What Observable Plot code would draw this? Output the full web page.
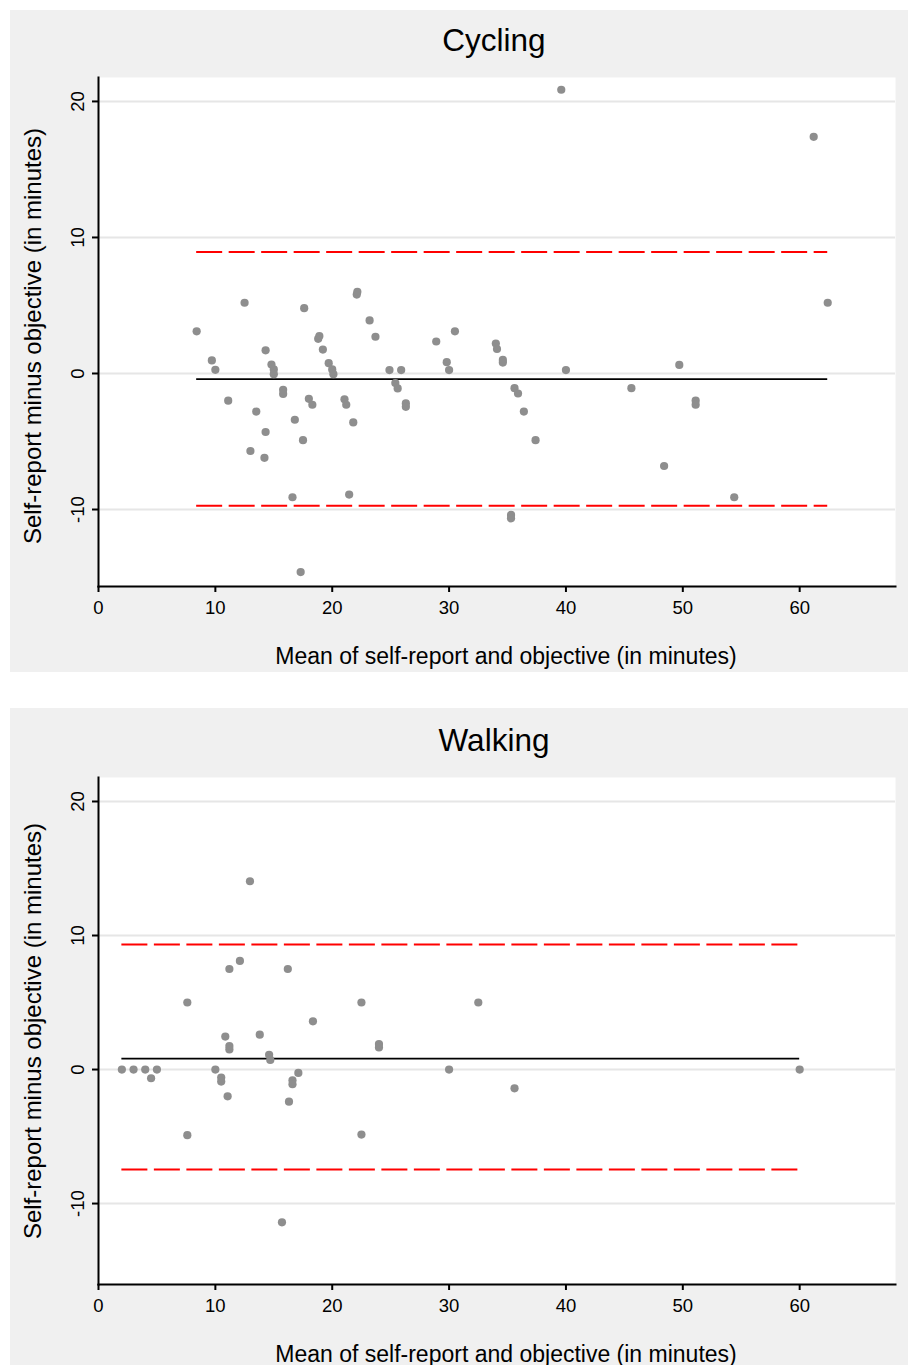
<!DOCTYPE html>
<html>
<head>
<meta charset="utf-8">
<script src="https://cdn.jsdelivr.net/npm/d3@7"></script>
<script src="https://cdn.jsdelivr.net/npm/@observablehq/plot@0.6"></script>
<style>
  html, body { margin: 0; padding: 0; background: #fff; }
  body { width: 908px; height: 1365px; position: relative; overflow: hidden;
         font-family: "Liberation Sans", Arial, Helvetica, sans-serif; }
  .panel { position: absolute; left: 10px; width: 898px; background: #f0f0f0; }
  .panel svg { position: absolute; left: 0; top: 0; }
  .txt { position: absolute; white-space: nowrap; line-height: 1; color: #000; text-align: center; }
</style>
</head>
<body>
<script>
// ---------- Data ----------
const cyclingMean = [8.4, 9.7, 10.0, 11.1, 12.5, 13.0, 13.5, 14.2, 14.3, 14.3, 14.8, 15.0, 15.0, 15.8, 15.8,
  16.6, 16.8, 17.3, 17.5, 17.6, 18.0, 18.3, 18.8, 18.9, 19.2, 19.7, 20.0, 20.1, 21.05, 21.2, 21.45, 21.8,
  22.1, 22.15, 23.2, 23.7, 24.9, 25.4, 25.6, 25.9, 26.3, 26.3, 28.9, 29.8, 30.0, 30.5, 34.0, 34.1, 34.6,
  34.6, 35.3, 35.3, 35.6, 35.9, 36.4, 37.4, 39.6, 40.0, 45.6, 48.4, 49.7, 51.1, 51.1, 54.4, 61.2, 62.4];
const cyclingDiff = [3.1, 0.96, 0.27, -2.0, 5.2, -5.7, -2.8, -6.2, 1.7, -4.3, 0.66, 0.3, -0.05, -1.2, -1.5,
  -9.1, -3.4, -14.6, -4.9, 4.8, -1.86, -2.3, 2.55, 2.75, 1.76, 0.76, 0.3, -0.05, -1.9, -2.3, -8.9, -3.6,
  5.8, 6.0, 3.9, 2.7, 0.25, -0.7, -1.1, 0.25, -2.2, -2.45, 2.35, 0.83, 0.25, 3.1, 2.2, 1.8, 1.0,
  0.8, -10.4, -10.65, -1.08, -1.47, -2.8, -4.9, 20.86, 0.25, -1.08, -6.8, 0.63, -2.0, -2.3, -9.1, 17.4, 5.2];
// lower limit of agreement, mean difference, upper limit of agreement
const cyclingLimits = [-9.73, -0.42, 8.94];

const walkingMean = [2.0, 3.0, 4.0, 4.5, 5.0, 7.6, 7.6, 10.0, 10.5, 10.5, 10.85, 11.05, 11.2, 11.2, 11.2,
  12.1, 12.96, 13.8, 14.6, 14.7, 15.7, 16.2, 16.3, 16.6, 16.6, 17.1, 18.35, 22.5, 22.5, 24.0, 24.0,
  30.0, 32.5, 35.6, 60.0];
const walkingDiff = [0, 0, 0, -0.65, 0, 5.0, -4.9, 0, -0.6, -0.9, 2.46, -2.0, 1.5, 1.75, 7.5,
  8.1, 14.05, 2.6, 1.1, 0.72, -11.4, 7.5, -2.4, -0.8, -1.1, -0.25, 3.6, 5.0, -4.85, 1.65, 1.9,
  0, 5.0, -1.4, 0];
const walkingLimits = [-7.46, 0.82, 9.33];

const xTicks = [0, 10, 20, 30, 40, 50, 60];
const yTicks = [-10, 0, 10, 20];
const xTitle = "Mean of self-report and objective (in minutes)";
const yTitle = "Self-report minus objective (in minutes)";

// ---------- Drawing ----------
function addText(parent, str, cx, cy, size, rotate) {
  const d = document.createElement("div");
  d.className = "txt";
  d.textContent = str;
  d.style.fontSize = size + "px";
  d.style.width = "1000px";
  d.style.left = (cx - 500) + "px";
  d.style.top = (cy - size / 2) + "px";
  if (rotate) d.style.transform = "rotate(" + rotate + "deg)";
  parent.appendChild(d);
}

function panel({title, means, diffs, limits, top, height, marginTop, marginBottom, yDomain, titleY, xTitleY, yTitleY}) {
  const div = document.createElement("div");
  div.className = "panel";
  div.style.top = top + "px";
  div.style.height = height + "px";
  document.body.appendChild(div);

  const pts = means.map((m, i) => ({m, d: diffs[i]}));
  const xmin = d3.min(means), xmax = d3.max(means);
  const loa = [limits[0], limits[2]].map(v => ({y: v, x1: xmin, x2: xmax}));
  const mid = [{y: limits[1], x1: xmin, x2: xmax}];

  const svg = Plot.plot({
    width: 898,
    height,
    marginTop,
    marginBottom,
    marginLeft: 88,
    marginRight: 13,
    x: {domain: [0, 68.2]},
    y: {domain: yDomain},
    style: {background: "transparent", fontFamily: '"Liberation Sans", Arial, sans-serif', color: "black", overflow: "visible"},
    marks: [
      Plot.frame({fill: "white", stroke: "none"}),
      Plot.ruleY(yTicks, {stroke: "#e6e6e6", strokeWidth: 2}),
      Plot.ruleY(loa, {y: "y", x1: "x1", x2: "x2", stroke: "#ff0000", strokeWidth: 2, strokeDasharray: "26,6.5"}),
      Plot.ruleY(mid, {y: "y", x1: "x1", x2: "x2", stroke: "black", strokeWidth: 1.8}),
      Plot.dot(pts, {x: "m", y: "d", r: 4.1, fill: "#8e8e8e", stroke: "none"}),
      Plot.frame({anchor: "bottom", stroke: "black", strokeWidth: 2}),
      Plot.frame({anchor: "left", stroke: "black", strokeWidth: 2}),
      Plot.axisX({ticks: xTicks, tickSize: 6, tickPadding: 8, strokeWidth: 2, fontSize: 18.5, label: null, tickFormat: d => String(d)}),
      Plot.axisY({ticks: yTicks, tickSize: 6, tickPadding: 9, tickRotate: -90, strokeWidth: 2, fontSize: 18.5, label: null, tickFormat: d => String(d)})
    ]
  });
  div.appendChild(svg);

  addText(div, title, 484, titleY, 31.5, 0);
  addText(div, xTitle, 496, xTitleY, 23, 0);
  addText(div, yTitle, 23, yTitleY, 24, -90);
}

panel({
  title: "Cycling", means: cyclingMean, diffs: cyclingDiff, limits: cyclingLimits,
  top: 10, height: 662, marginTop: 67, marginBottom: 86, yDomain: [-15.66, 21.76],
  titleY: 31, xTitleY: 646, yTitleY: 326
});
panel({
  title: "Walking", means: walkingMean, diffs: walkingDiff, limits: walkingLimits,
  top: 708, height: 657, marginTop: 69, marginBottom: 81, yDomain: [-16.04, 21.79],
  titleY: 33, xTitleY: 646, yTitleY: 323
});
</script>
</body>
</html>
